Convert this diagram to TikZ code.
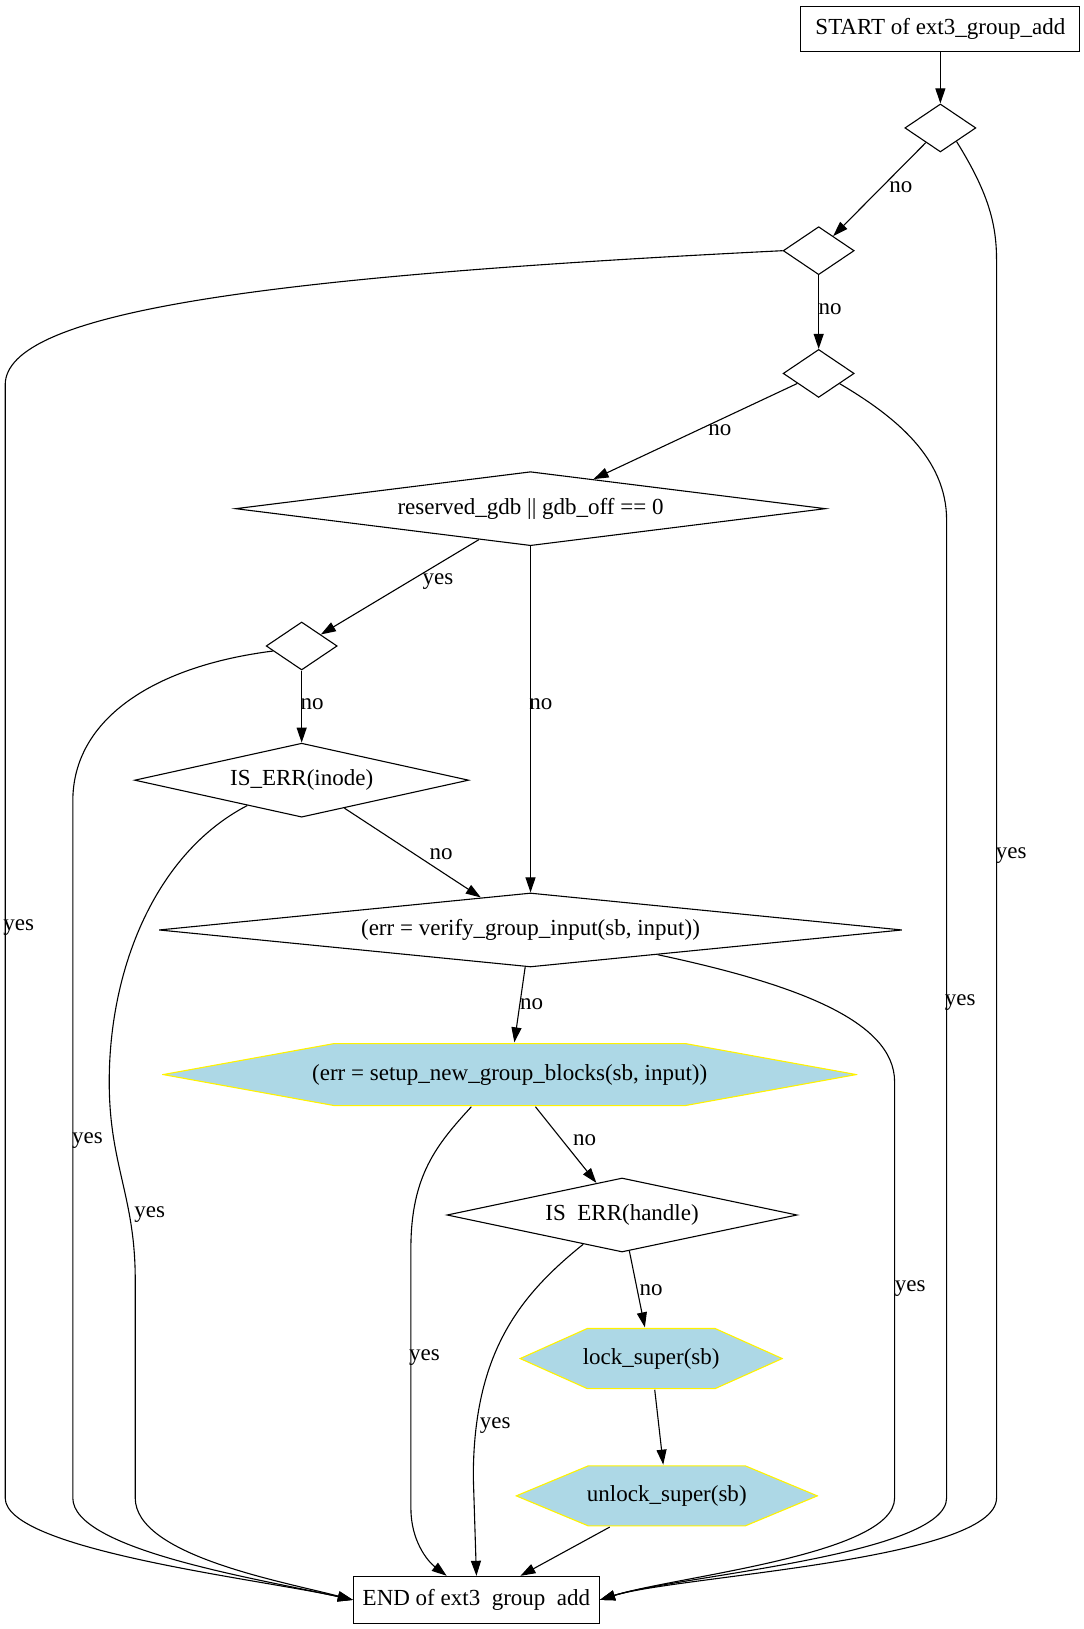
\documentclass[tikz,border=0pt]{standalone}
\usepackage{fontspec}
\setmainfont{Liberation Serif}
\usetikzlibrary{shapes.geometric, arrows.meta}
\definecolor{lightblue}{RGB}{173,216,230}

\begin{document}
\begin{tikzpicture}[x=1.04pt, y=-1.04pt,
    every node/.style={font=\fontsize{23}{27}\selectfont, inner sep=0pt},
    box/.style={rectangle, draw, line width=1.1pt},
    cond/.style={diamond, aspect=5, draw, line width=1.1pt, minimum height=74pt},
    act/.style={rectangle, minimum height=62pt,
        path picture={\filldraw[draw=yellow, fill=lightblue, line width=1.1pt]
            ([xshift=1pt]path picture bounding box.west)
            -- ([xshift=#1, yshift=-1pt]path picture bounding box.north west)
            -- ([xshift=-#1, yshift=-1pt]path picture bounding box.north east)
            -- ([xshift=-1pt]path picture bounding box.east)
            -- ([xshift=-#1, yshift=1pt]path picture bounding box.south east)
            -- ([xshift=#1, yshift=1pt]path picture bounding box.south west) -- cycle;}},
    arr/.style={-{Triangle[length=15pt, width=10pt]}, line width=1.1pt},
    lbl/.style={}]
    \useasboundingbox (0,0) rectangle (1042,1566);
                \node[box, minimum width=279pt, minimum height=45pt] (start) at (904,28) {START of ext3\_group\_add};
                \node[cond, minimum width=71pt, minimum height=48pt] (q1) at (904,123) {};
                \node[cond, minimum width=71pt, minimum height=48pt] (q2) at (787,241) {};
                \node[cond, minimum width=71pt, minimum height=48pt] (q3) at (787,359) {};
                \node[cond, aspect=10, minimum width=590pt] (gdb) at (510,489) {reserved\_gdb || gdb\_off == 0};
                \node[cond, minimum width=71pt, minimum height=48pt] (q5) at (290,621) {};
                \node[cond, minimum width=334pt] (inode) at (290,750) {IS\_ERR(inode)};
                \node[cond, aspect=10, minimum width=743pt] (verify) at (510,894) {(err = verify\_group\_input(sb, input))};
                \node[act=172pt, minimum width=695pt, minimum height=64pt] (setup) at (490,1033) {(err = setup\_new\_group\_blocks(sb, input))};
                \node[cond, minimum width=350pt] (handle) at (598,1168) {IS\ \ ERR(handle)};
                \node[act=68pt, minimum width=264pt] (lock) at (626,1306) {lock\_super(sb)};
                \node[act=73pt, minimum width=303pt] (unlock) at (641,1438) {unlock\_super(sb)};
                \node[box, minimum width=246pt, minimum height=47pt] (stop) at (458,1538) {END of ext3\ \ group\ \ add};
                % straight connectors
                \draw[arr] (start) -- (q1);
                \draw[arr] (q1) -- (q2) node[lbl] at (866,180) {no};
                \draw[arr] (q2) -- (q3) node[lbl] at (798,297) {no};
                \draw[arr] (q3) -- (gdb) node[lbl] at (692,414) {no};
                \draw[arr] (gdb) -- (q5) node[lbl] at (421,559) {yes};
                \draw[arr] (gdb) -- (verify) node[lbl] at (520,677) {no};
                \draw[arr] (q5) -- (inode) node[lbl] at (300,677) {no};
                \draw[arr] (inode) -- (verify) node[lbl] at (424,821) {no};
                \draw[arr] (verify) -- (setup) node[lbl] at (511,965) {no};
                \draw[arr] (setup) -- (handle) node[lbl] at (562,1096) {no};
                \draw[arr] (handle) -- (lock) node[lbl] at (626,1240) {no};
                \draw[arr] (lock) -- (unlock);
                \draw[arr] (unlock) -- (stop);
                % yes branches down to the end
                \draw[arr] (q1.-40) .. controls (950,185) and (958,215) .. (958,250) -- (958,1440)
                    .. controls (958,1500) and (650,1515) .. (stop.east) node[lbl] at (972,822) {yes};
                \draw[arr] (q2.west) .. controls (250,266) and (5,300) .. (5,370) -- (5,1440)
                    .. controls (5,1490) and (250,1518) .. (stop.west) node[lbl] at (18,892) {yes};
                \draw[arr] (q3.-26) .. controls (860,400) and (910,440) .. (910,500) -- (910,1440)
                    .. controls (910,1495) and (650,1515) .. (stop.east) node[lbl] at (923,964) {yes};
                \draw[arr] (q5.-170) .. controls (150,640) and (70,690) .. (70,770) -- (70,1440)
                    .. controls (70,1490) and (250,1518) .. (stop.west) node[lbl] at (84,1096) {yes};
                \draw[arr] (inode.-155) .. controls (150,820) and (105,930) .. (105,1040)
                    .. controls (105,1120) and (130,1150) .. (130,1230) -- (130,1440)
                    .. controls (130,1495) and (270,1520) .. (stop.west) node[lbl] at (144,1168) {yes};
                \draw[arr] (verify.-11) .. controls (760,945) and (860,980) .. (860,1040) -- (860,1440)
                    .. controls (860,1495) and (650,1515) .. (stop.east) node[lbl] at (875,1239) {yes};
                \draw[arr] (setup.-140) .. controls (420,1100) and (395,1130) .. (395,1200) -- (395,1450)
                    .. controls (395,1480) and (410,1500) .. (stop.141) node[lbl] at (408,1305) {yes};
                \draw[arr] (handle.-143) .. controls (500,1245) and (455,1300) .. (455,1420)
                    -- (stop.north) node[lbl] at (476,1370) {yes};
\end{tikzpicture}
\end{document}
